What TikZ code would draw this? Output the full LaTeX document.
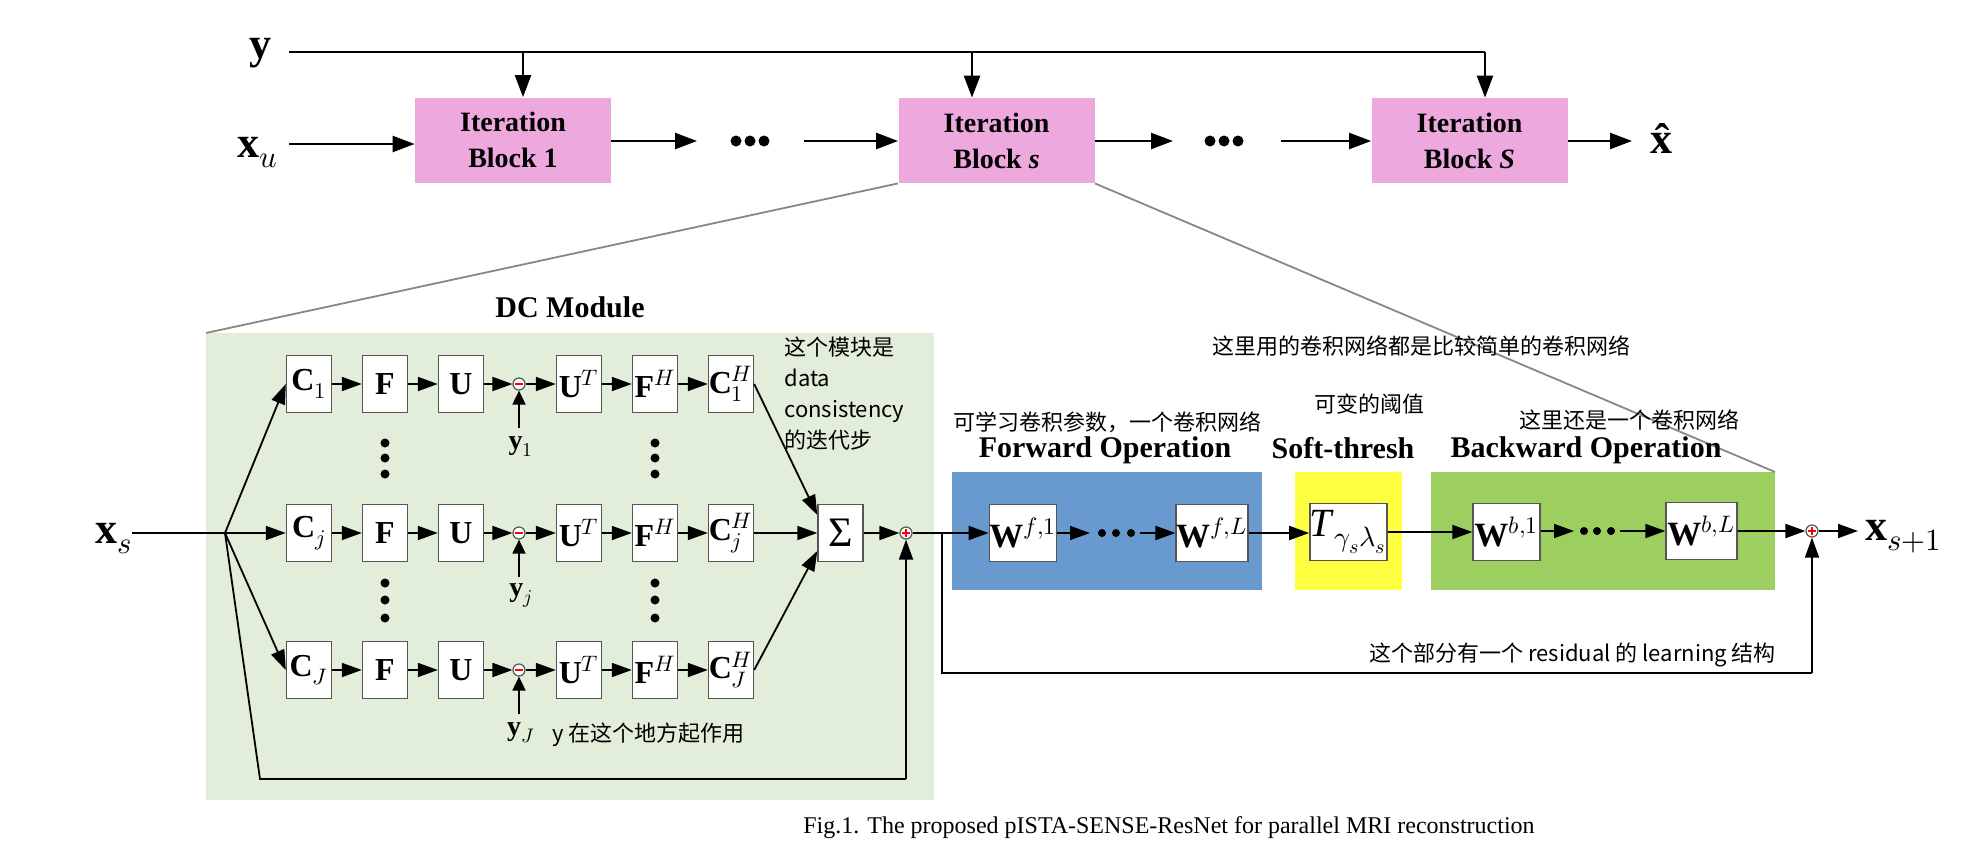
\documentclass[tikz,border=0pt]{standalone}
\usepackage{fontspec}
\usepackage{unicode-math}
\setmainfont{Liberation Serif}
\setmathfont{Latin Modern Math}
\newfontfamily\cjk{Noto Sans CJK SC}
\usetikzlibrary{arrows.meta,calc}

\definecolor{pinkb}{RGB}{237,168,222}
\definecolor{dcgreen}{RGB}{226,238,218}
\definecolor{fwblue}{RGB}{104,154,207}
\definecolor{styellow}{RGB}{255,255,66}
\definecolor{bwgreen}{RGB}{156,206,96}
\definecolor{boxgray}{RGB}{85,85,85}
\definecolor{linegray}{RGB}{135,135,135}

\tikzset{
  ib/.style={fill=pinkb, minimum width=98pt, minimum height=42.5pt, inner sep=0pt, align=center, font=\fontsize{14}{18}\selectfont\bfseries},
  biglab/.style={font=\fontsize{22}{22}\selectfont\bfseries, inner sep=0pt},
  opb/.style={draw=boxgray, fill=white, line width=0.7pt, minimum width=22.5pt, minimum height=28.5pt, inner sep=0pt, font=\fontsize{16}{16}\selectfont\bfseries},
  wb/.style={draw=boxgray, fill=white, line width=0.7pt, minimum width=33pt, minimum height=28.5pt, inner sep=0pt, font=\fontsize{17}{17}\selectfont\bfseries},
  toparr/.style={-{Triangle[length=11pt,width=8pt]}, line width=1.2pt},
  arr/.style={-{Triangle[length=10pt,width=7pt]}, line width=0.9pt},
  yarr/.style={-{Triangle[length=7pt,width=6.5pt]}, line width=0.9pt},
  ln/.style={line width=0.9pt},
  topln/.style={line width=1.2pt},
  cn/.style={font=\fontsize{11}{15.5}\selectfont\cjk, inner sep=0pt},
  hd/.style={font=\fontsize{15}{15}\selectfont\bfseries, inner sep=0pt},
  rcirc/.style={circle, draw=boxgray, fill=white, line width=0.6pt, minimum size=6pt, inner sep=0pt},
  minusc/.style={rcirc, path picture={\draw[red, line width=0.9pt] ([xshift=-2pt]path picture bounding box.center) -- ([xshift=2pt]path picture bounding box.center);}},
  plusc/.style={rcirc, path picture={\draw[red, line width=0.9pt] ([xshift=-2pt]path picture bounding box.center) -- ([xshift=2pt]path picture bounding box.center) ([yshift=-2pt]path picture bounding box.center) -- ([yshift=2pt]path picture bounding box.center);}},
  bdot/.style={circle, fill=black, minimum size=4.5pt, inner sep=0pt},
  gl/.style={draw=linegray, line width=0.9pt},
}

\begin{document}
\begin{tikzpicture}[x=0.5pt,y=-0.5pt]
\useasboundingbox (0,0) rectangle (1988,868);

% ---------------- top row ----------------
\node[biglab, anchor=base west] (ylab) at (249,58) {y};
\node[biglab, anchor=base west] (xu) at (237,157) {x$_{u}$};
\node[ib] (b1) at (513,140) {Iteration\\Block 1};
\node[ib] (bs) at (996.5,140.5) {Iteration\\Block \textit{s}};
\node[ib] (bS) at (1469.5,140.5) {Iteration\\Block \textit{S}};
\node[bdot, minimum size=5.5pt] (d1a) at (736,141) {};
\node[bdot, minimum size=5.5pt] (d1b) at (750,141) {};
\node[bdot, minimum size=5.5pt] (d1c) at (764,141) {};
\node[bdot, minimum size=5.5pt] (d2a) at (1210,141) {};
\node[bdot, minimum size=5.5pt] (d2b) at (1224,141) {};
\node[bdot, minimum size=5.5pt] (d2c) at (1238,141) {};
\node[biglab, anchor=base west] (xhat) at (1650,153) {\^{x}};

\coordinate (ys) at (289,52);
\coordinate (ye) at (1485,52);
\coordinate (t1) at (523,52);
\coordinate (t2) at (972,52);
\draw[topln] (ys) -- (ye);
\draw[toparr] (t1) -- (t1 |- b1.north);
\draw[toparr] (t2) -- (t2 |- bs.north);
\draw[toparr] (ye) -- (ye |- bS.north);

\coordinate (xus) at (289,144);
\draw[toparr] (xus) -- (xus -| b1.west);
\coordinate (a1e) at (697,141);
\coordinate (a2s) at (804,141);
\draw[toparr] (b1.east |- a1e) -- (a1e);
\draw[toparr] (a2s) -- (a2s -| bs.west);
\coordinate (a3e) at (1173,141);
\coordinate (a4s) at (1281,141);
\draw[toparr] (bs.east |- a3e) -- (a3e);
\draw[toparr] (a4s) -- (a4s -| bS.west);
\coordinate (a5e) at (1632,141);
\draw[toparr] (bS.east |- a5e) -- (a5e);

% ---------------- coloured regions ----------------
\fill[dcgreen] (206,333) rectangle (934,800);
\fill[fwblue] (952,472) rectangle (1262,590);
\fill[styellow] (1295,472) rectangle (1402,590);
\fill[bwgreen] (1431,472) rectangle (1775,590);

\draw[gl] (bs.south west) -- (206,333);
\draw[gl] (bs.south east) -- (1775,472);

% ---------------- DC module ----------------
\node[hd] (dct) at (570,307) {DC Module};

\foreach \r/\yy/\sb in {1/384/1, j/533/j, J/670/J}{
  \node[opb] (c\r) at (309,\yy) {C$_{\sb}$};
  \node[opb] (f\r) at (385,\yy) {F};
  \node[opb] (u\r) at (461,\yy) {U};
  \node[minusc] (m\r) at (519,\yy) {};
  \node[opb] (ut\r) at (579,\yy) {U$^{T}$};
  \node[opb] (fh\r) at (655,\yy) {F$^{H}$};
  \node[opb] (ch\r) at (731,\yy) {C$^{H}_{\sb}$};
  \draw[arr] (c\r) -- (f\r);
  \draw[arr] (f\r) -- (u\r);
  \draw[arr] (u\r) -- (m\r);
  \draw[arr] (m\r) -- (ut\r);
  \draw[arr] (ut\r) -- (fh\r);
  \draw[arr] (fh\r) -- (ch\r);
  \node[font=\fontsize{14}{14}\selectfont\bfseries, inner sep=0pt] (yl\r) at (521,\yy+63) {y$_{\sb}$};
  \coordinate (ya\r) at (519,\yy+44);
  \draw[yarr] (ya\r) -- (m\r.south);
}

\foreach \xx in {385,655}{
  \node[bdot] at (\xx,443) {};
  \node[bdot] at (\xx,458) {};
  \node[bdot] at (\xx,474) {};
  \node[bdot] at (\xx,583) {};
  \node[bdot] at (\xx,600) {};
  \node[bdot] at (\xx,618) {};
}

\node[cn, anchor=base west] (ytxt) at (552,741) {y 在这个地方起作用};

% input x_s and split
\node[biglab, anchor=base west] (xs) at (95,543) {x$_{s}$};
\coordinate (xsl) at (132,533);
\coordinate (sp) at (225,533);
\draw[ln] (xsl) -- (sp);
\draw[arr] (sp) -- (c1.west);
\draw[arr] (sp) -- (cj.west);
\draw[arr] (sp) -- (cJ.west);

% sigma and sum
\node[opb, font=\fontsize{21}{21}\selectfont] (sig) at (840.5,533) {Σ};
\draw[arr] (ch1.east) -- ([yshift=9pt]sig.west);
\draw[arr] (chj.east) -- (sig.west);
\draw[arr] (chJ.east) -- ([yshift=-9pt]sig.west);
\node[plusc] (p1) at (906,533) {};
\draw[arr] (sig.east) -- (p1.west);

\coordinate (fb) at (260,779);
\draw[ln] (sp) -- (fb) -- (fb -| p1);
\draw[arr] (fb -| p1) -- (p1.south);

\node[cn, anchor=base west] (n1) at (784,355) {这个模块是};
\node[cn, anchor=base west] (n2) at (784,386) {data};
\node[cn, anchor=base west] (n3) at (784,417) {consistency};
\node[cn, anchor=base west] (n4) at (784,448) {的迭代步};

% ---------------- forward / soft / backward ----------------
\node[hd] (fwt) at (1105,450) {Forward Operation};
\node[hd] (stt) at (1343,448) {Soft-thresh};
\node[hd] (bwt) at (1586,450) {Backward Operation};

\node[cn, anchor=base west] (c1t) at (953,430) {可学习卷积参数，一个卷积网络};
\node[cn, anchor=base] (c2t) at (1369,412) {可变的阈值};
\node[cn, anchor=base] (c3t) at (1629,428) {这里还是一个卷积网络};
\node[cn, anchor=base west] (c4t) at (1212,354) {这里用的卷积网络都是比较简单的卷积网络};

\node[wb] (wf1) at (1023,533) {W$^{f,1}$};
\node[wb] (wfL) at (1212,533) {W$^{f,L}$};
\node[wb, minimum width=33.5pt, font=\fontsize{20}{20}\selectfont] (tt) at (1348.5,532) {\textit{T}$_{\gamma_s\lambda_s}$};
\node[wb, minimum width=33.5pt] (wb1) at (1506.5,532) {W$^{b,1}$};
\node[wb, minimum width=35.5pt] (wbL) at (1701.5,531) {W$^{b,L}$};

\coordinate (br) at (942,533);
\draw[ln] (p1.east) -- (br);
\draw[arr] (br) -- (wf1.west);

\node[bdot, minimum size=4pt] (fd1) at (1102,533) {};
\node[bdot, minimum size=4pt] (fd2) at (1116,533) {};
\node[bdot, minimum size=4pt] (fd3) at (1131,533) {};
\coordinate (fa1) at (1090,533);
\coordinate (fa2) at (1140,533);
\draw[arr] (wf1.east) -- (fa1);
\draw[arr] (fa2) -- (wfL.west);
\draw[arr] (wfL.east) -- (tt.west |- wfL.east);
\draw[arr] (tt.east) -- (wb1.west);

\node[bdot, minimum size=4pt] (bd1) at (1584,531) {};
\node[bdot, minimum size=4pt] (bd2) at (1597,531) {};
\node[bdot, minimum size=4pt] (bd3) at (1611,531) {};
\coordinate (ba1) at (1574,531);
\coordinate (ba2) at (1620,531);
\draw[arr] (wb1.east |- ba1) -- (ba1);
\draw[arr] (ba2) -- (wbL.west);

\node[plusc] (p2) at (1812,531) {};
\draw[arr] (wbL.east) -- (p2.west);
\coordinate (oe) at (1858,531);
\draw[arr] (p2.east) -- (oe);
\node[biglab, anchor=base west] (xs1) at (1865,540) {x$_{s+1}$};

\coordinate (rb) at (942,673);
\draw[ln] (br) -- (rb) -- (rb -| p2);
\draw[arr] (rb -| p2) -- (p2.south);
\node[cn, anchor=base west] (rtxt) at (1369,661) {这个部分有一个 residual 的 learning 结构};

% caption
\node[font=\fontsize{12}{12}\selectfont, inner sep=0pt, anchor=base] (cap) at (1169,833) {Fig.1. The proposed pISTA-SENSE-ResNet for parallel MRI reconstruction};
\end{tikzpicture}
\end{document}
